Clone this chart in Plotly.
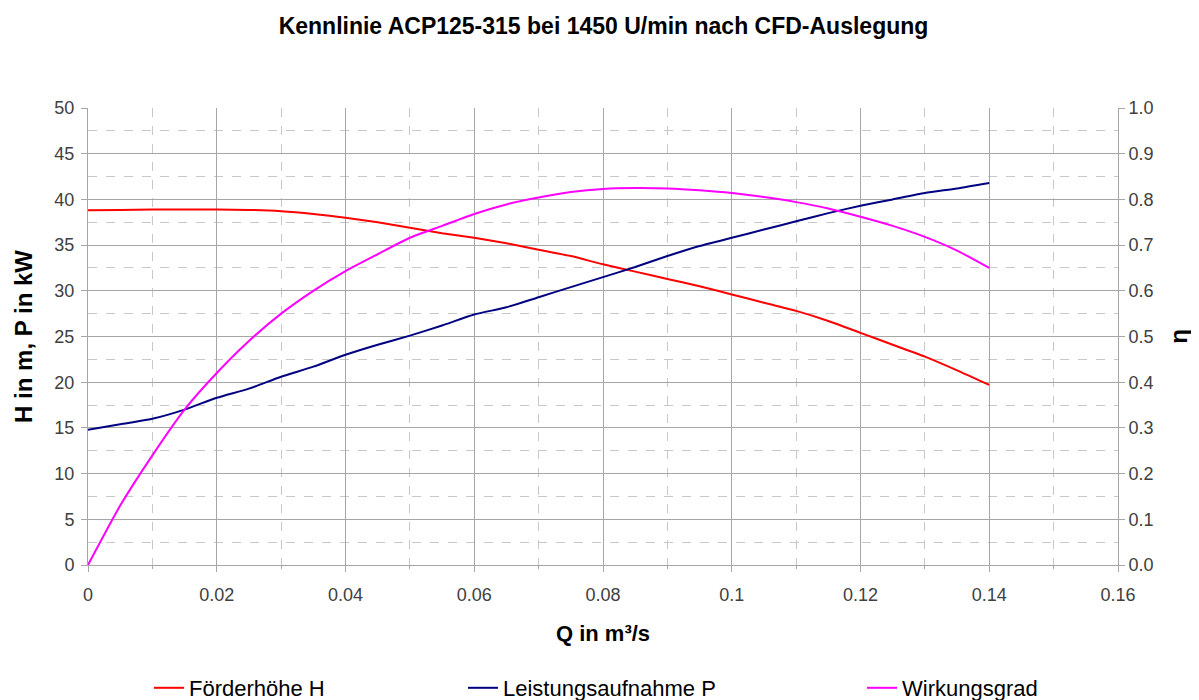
import plotly.graph_objects as go

q = [0.000, 0.005, 0.010, 0.015, 0.020, 0.025, 0.030, 0.035, 0.040, 0.045,
     0.050, 0.055, 0.060, 0.065, 0.070, 0.075, 0.080, 0.085, 0.090, 0.095,
     0.100, 0.105, 0.110, 0.115, 0.120, 0.125, 0.130, 0.135, 0.140]

head_h = [38.8, 38.85, 38.9, 38.9, 38.9, 38.85, 38.7, 38.4, 38.0, 37.5,
          36.9, 36.3, 35.8, 35.2, 34.5, 33.8, 32.9, 32.1, 31.3, 30.5,
          29.6, 28.7, 27.8, 26.7, 25.4, 24.1, 22.8, 21.3, 19.7]

power_p = [14.8, 15.4, 16.0, 17.0, 18.3, 19.3, 20.6, 21.7, 23.0, 24.1,
           25.1, 26.2, 27.4, 28.2, 29.3, 30.4, 31.5, 32.6, 33.8, 34.9,
           35.8, 36.7, 37.6, 38.5, 39.3, 40.0, 40.7, 41.2, 41.8]

eta = [0.0, 0.13, 0.24, 0.34, 0.42, 0.49, 0.55, 0.60, 0.643, 0.68,
       0.716, 0.742, 0.768, 0.789, 0.804, 0.816, 0.823, 0.825, 0.824, 0.82,
       0.814, 0.805, 0.794, 0.78, 0.762, 0.742, 0.718, 0.688, 0.65]

names = ["Förderhöhe H", "Leistungsaufnahme P", "Wirkungsgrad"]
colors = ["#FF0000", "#000080", "#FF00FF"]

FONT = "Liberation Sans, Arial, sans-serif"

fig = go.Figure()
fig.add_trace(go.Scatter(x=q, y=head_h, mode="lines", name=names[0],
                         line=dict(color=colors[0], width=2, shape="spline", smoothing=0.6),
                         legend="legend"))
fig.add_trace(go.Scatter(x=q, y=power_p, mode="lines", name=names[1],
                         line=dict(color=colors[1], width=2, shape="spline", smoothing=0.6),
                         legend="legend2"))
fig.add_trace(go.Scatter(x=q, y=eta, mode="lines", name=names[2], yaxis="y2",
                         line=dict(color=colors[2], width=2, shape="spline", smoothing=0.6),
                         legend="legend3"))

grid_major = "#A6A6A6"
grid_minor = "#C8C8C8"
tickfont = dict(family=FONT, size=18, color="#404040")

# page body has an 8px margin, so the figure is drawn 8px smaller and
# all reference pixel positions are shifted by that offset
OFF = 8
W, H = 1199 - OFF, 700 - OFF
PL, PR, PT, PB = 88 - OFF, 1118 - OFF, 108 - OFF, 565 - OFF


def px_x(px):
    return (px - OFF - PL) / (PR - PL)


def px_y(py):
    return (PB - (py - OFF)) / (PB - PT)


leg_common = dict(orientation="h", yanchor="middle", xanchor="left",
                  font=dict(family=FONT, size=22, color="#000000"),
                  bgcolor="rgba(0,0,0,0)", itemwidth=30, tracegroupgap=0)

fig.update_layout(
    width=W, height=H,
    showlegend=True,
    paper_bgcolor="white", plot_bgcolor="white",
    margin=dict(l=PL, r=W - PR, t=PT, b=H - PB, autoexpand=False),
    title=dict(text="<b>Kennlinie ACP125-315 bei 1450 U/min nach CFD-Auslegung</b>",
               x=0.5, xanchor="center", y=1 - (26 - OFF) / H, yanchor="middle",
               font=dict(family=FONT, size=23, color="#000000")),
    xaxis=dict(range=[0, 0.16], dtick=0.02, tick0=0, automargin=False,
               showgrid=True, gridcolor=grid_major, gridwidth=1,
               minor=dict(dtick=0.01, showgrid=True, gridcolor=grid_minor,
                          griddash="dash", ticks="outside", ticklen=3,
                          tickcolor=grid_major),
               ticks="outside", ticklen=6, tickcolor=grid_major,
               ticklabelstandoff=7,
               showline=True, linecolor=grid_major, linewidth=1,
               zeroline=False, tickfont=tickfont, tickformat="~g",
               title=dict(text="<b>Q in m³/s</b>", standoff=22,
                          font=dict(family=FONT, size=22, color="#000000"))),
    yaxis=dict(range=[0, 50], dtick=5, tick0=0, automargin=False,
               showgrid=True, gridcolor=grid_major, gridwidth=1,
               minor=dict(dtick=2.5, showgrid=True, gridcolor=grid_minor,
                          griddash="dash"),
               ticks="outside", ticklen=6, tickcolor=grid_major,
               ticklabelstandoff=3,
               showline=True, linecolor=grid_major, linewidth=1,
               zeroline=False, tickfont=tickfont,
               title=dict(text="<b>H in m, P in kW</b>", standoff=14,
                          font=dict(family=FONT, size=24, color="#000000"))),
    yaxis2=dict(range=[0, 1], dtick=0.1, tick0=0, overlaying="y", side="right",
                automargin=False,
                showgrid=False, zeroline=False, tickformat=".1f",
                ticks="outside", ticklen=6, tickcolor=grid_major,
                showline=True, linecolor=grid_major, linewidth=1,
                tickfont=tickfont,
                title=dict(text="<b>η</b>", standoff=17,
                           font=dict(family=FONT, size=24, color="#000000"))),
    legend=dict(x=px_x(149), y=px_y(688), **leg_common),
    legend2=dict(x=px_x(463), y=px_y(688), **leg_common),
    legend3=dict(x=px_x(862), y=px_y(688), **leg_common),
)

fig.write_html("out.html")
